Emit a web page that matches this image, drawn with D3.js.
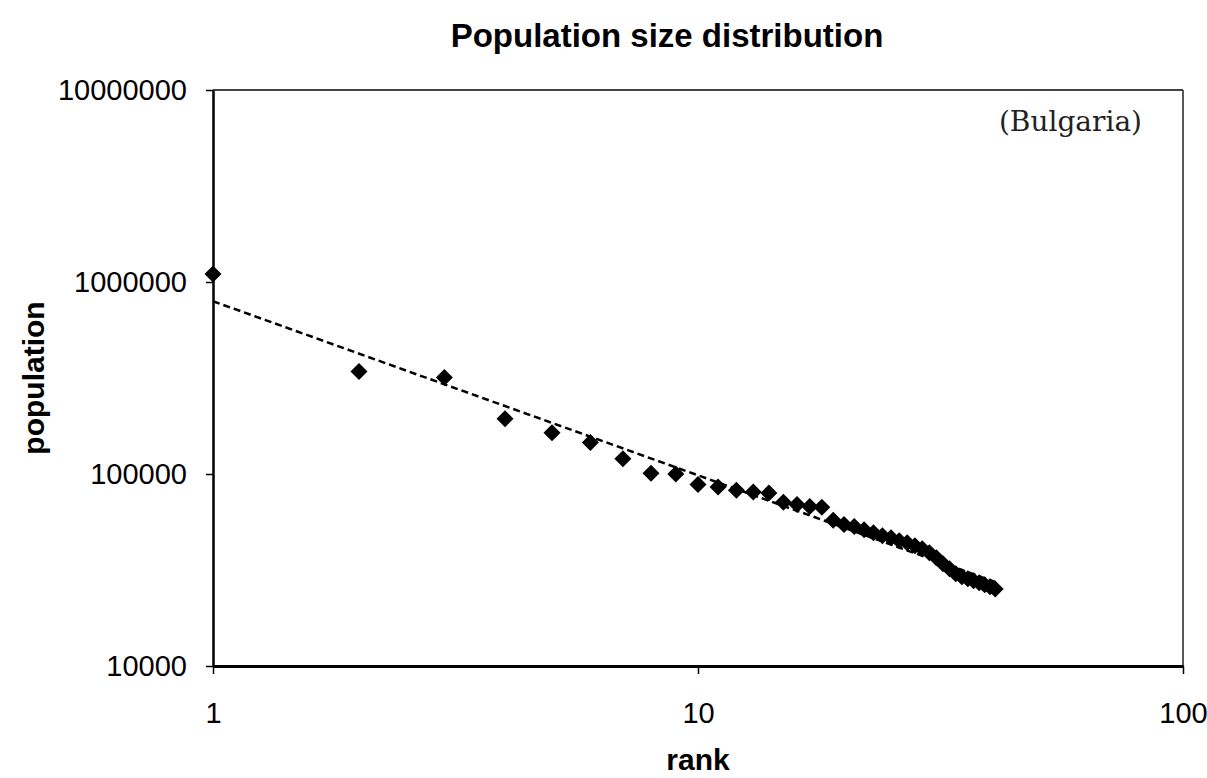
<!DOCTYPE html>
<html>
<head>
<meta charset="utf-8">
<script src="https://cdn.jsdelivr.net/npm/d3@7"></script>
<style>
  html, body { margin: 0; padding: 0; background: #fff; }
  svg { display: block; }
</style>
</head>
<body>
<div id="chart"></div>
<script>
// Data: city population by rank
const ranks = d3.range(1, 42);
const populations = [
  1100000, 342000, 318000, 194000, 164000, 146000, 120000, 101000, 100000, 88300,
  85500, 82200, 80500, 79600, 71300, 69300, 67700, 67100, 57500, 54500,
  53200, 51300, 49500, 47700, 46600, 44900, 43900, 42300, 40800, 38900,
  36600, 34100, 32100, 30200, 29200, 28500, 27800, 27100, 26500, 25900, 25200
];
const xTicks = [1, 10, 100];
const yTicks = [10000, 100000, 1000000, 10000000];
const title = 'Population size distribution';
const xTitle = 'rank';
const yTitle = 'population';
const note = '(Bulgaria)';

const width = 1207;
const height = 778;
const margin = { top: 90, right: 24, bottom: 112, left: 213 };

const points = ranks.map((r, i) => ({ rank: r, pop: populations[i] }));

const x = d3.scaleLog()
  .domain([1, 100])
  .range([margin.left, width - margin.right]);

const y = d3.scaleLog()
  .domain([10000, 10000000])
  .range([height - margin.bottom, margin.top]);

const svg = d3.select('#chart')
  .append('svg')
  .attr('width', width)
  .attr('height', height);

const font = '"Liberation Sans", Arial, sans-serif';

// plot frame (top & right)
svg.append('line')
  .attr('x1', x(1)).attr('x2', x(100))
  .attr('y1', y(1e7)).attr('y2', y(1e7))
  .attr('stroke', '#444').attr('stroke-width', 2);
svg.append('line')
  .attr('x1', x(100)).attr('x2', x(100))
  .attr('y1', y(1e7)).attr('y2', y(1e4))
  .attr('stroke', '#222').attr('stroke-width', 1.5);

// y axis
const yG = svg.append('g')
  .attr('transform', `translate(${x(1)},0)`)
  .call(d3.axisLeft(y).tickValues(yTicks).tickFormat(d3.format('d')).tickSize(7).tickSizeOuter(0).tickPadding(19));
yG.select('.domain').attr('stroke', '#000').attr('stroke-width', 2.5);
yG.selectAll('line').attr('stroke', '#000').attr('stroke-width', 1.5);
yG.selectAll('text')
  .style('font-family', font)
  .style('font-size', '29px')
  .attr('fill', '#000');

// x axis
const xG = svg.append('g')
  .attr('transform', `translate(0,${y(1e4)})`)
  .call(d3.axisBottom(x).tickValues(xTicks).tickFormat(d3.format('d')).tickSize(8).tickSizeOuter(0).tickPadding(28));
xG.select('.domain').attr('stroke', '#000').attr('stroke-width', 3);
xG.selectAll('line').attr('stroke', '#000').attr('stroke-width', 1.5);
xG.selectAll('text')
  .style('font-family', font)
  .style('font-size', '29px')
  .attr('fill', '#000');

// power trendline, least squares in log-log space (like Excel)
const lx = points.map(d => Math.log10(d.rank));
const ly = points.map(d => Math.log10(d.pop));
const mx = d3.mean(lx);
const my = d3.mean(ly);
const slope = d3.sum(lx, (v, i) => (v - mx) * (ly[i] - my)) / d3.sum(lx, v => (v - mx) * (v - mx));
const icpt = my - slope * mx;
const trend = d3.extent(ranks).map(r => ({ rank: r, pop: Math.pow(10, icpt + slope * Math.log10(r)) }));

svg.append('path')
  .datum(trend)
  .attr('fill', 'none')
  .attr('stroke', '#000')
  .attr('stroke-width', 2.5)
  .attr('stroke-dasharray', '7,4')
  .attr('d', d3.line().x(d => x(d.rank)).y(d => y(d.pop)));

// diamond markers
svg.append('g')
  .selectAll('path')
  .data(points)
  .enter()
  .append('path')
  .attr('transform', d => `translate(${x(d.rank)},${y(d.pop)})`)
  .attr('d', 'M0,-8.5L8.5,0L0,8.5L-8.5,0Z')
  .attr('fill', '#000');

// titles
svg.append('text')
  .attr('x', 667)
  .attr('y', 47)
  .attr('text-anchor', 'middle')
  .style('font-family', font)
  .style('font-weight', 'bold')
  .style('font-size', '33px')
  .text(title);

svg.append('text')
  .attr('x', (x(1) + x(100)) / 2)
  .attr('y', 770)
  .attr('text-anchor', 'middle')
  .style('font-family', font)
  .style('font-weight', 'bold')
  .style('font-size', '30px')
  .text(xTitle);

svg.append('text')
  .attr('transform', `translate(44,${(y(1e4) + y(1e7)) / 2}) rotate(-90)`)
  .attr('text-anchor', 'middle')
  .style('font-family', font)
  .style('font-weight', 'bold')
  .style('font-size', '30px')
  .text(yTitle);

svg.append('text')
  .attr('x', 1142)
  .attr('y', 131)
  .attr('text-anchor', 'end')
  .style('font-family', '"DejaVu Serif", serif')
  .style('font-size', '28px')
  .attr('fill', '#222')
  .text(note);
</script>
</body>
</html>
